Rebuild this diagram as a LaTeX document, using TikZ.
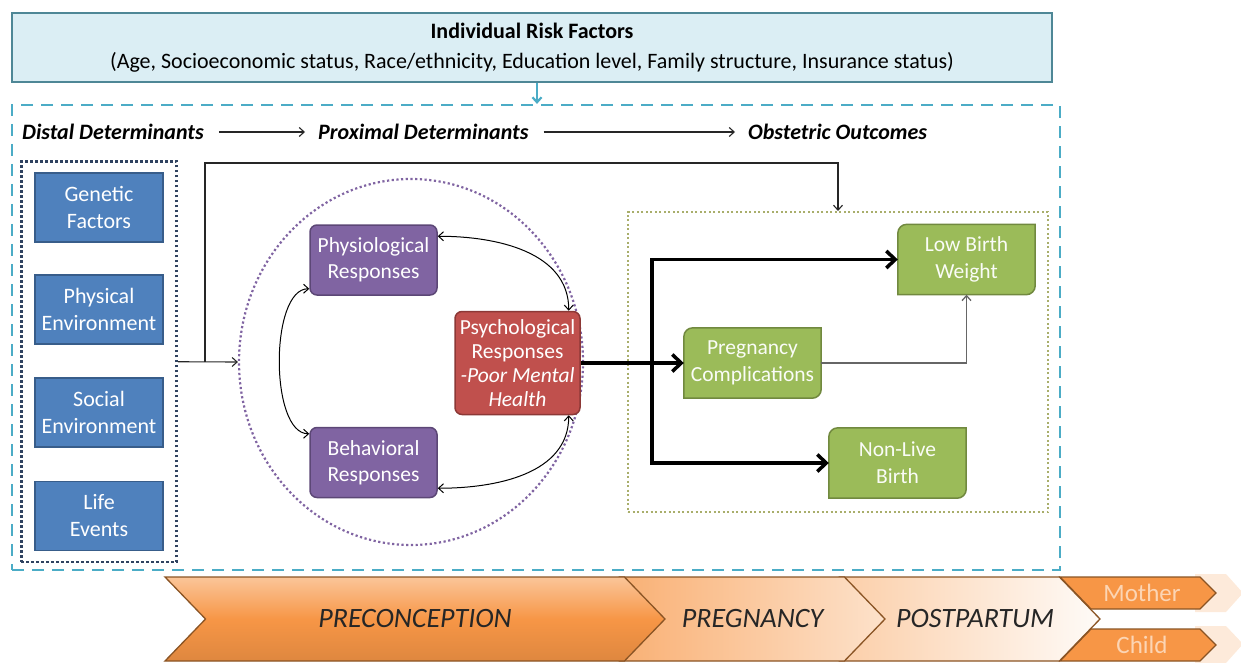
\documentclass[tikz,border=0pt]{standalone}
\usepackage{fontspec}
\setmainfont{Carlito}
\usetikzlibrary{positioning,arrows.meta,shapes.geometric,shapes.symbols,fit,backgrounds}
\definecolor{riskfill}{HTML}{DBEEF4}
\definecolor{riskline}{HTML}{4E8796}
\definecolor{dashblue}{HTML}{4BACC6}
\definecolor{navyline}{HTML}{2F4260}
\definecolor{blufill}{HTML}{4F81BD}
\definecolor{bluline}{HTML}{385D8A}
\definecolor{purfill}{HTML}{8064A2}
\definecolor{purline}{HTML}{5C4776}
\definecolor{redfill}{HTML}{C0504D}
\definecolor{redline}{HTML}{8C3836}
\definecolor{grnfill}{HTML}{9BBB59}
\definecolor{grnline}{HTML}{71893F}
\definecolor{grnframe}{HTML}{A9AE6B}
\definecolor{orfill}{HTML}{F79646}
\definecolor{orline}{HTML}{8A5424}
\definecolor{orlight}{HTML}{FCD5B4}
\definecolor{orpale}{HTML}{FDEADA}
\tikzset{
  riskbox/.style={draw=riskline, line width=2pt, fill=riskfill,
    minimum width=1040pt, minimum height=69pt, align=center,
    font=\fontsize{22}{30}\selectfont},
  detbox/.style={draw=bluline, line width=1.2pt, fill=blufill, text=white,
    minimum width=128pt, minimum height=69pt, inner sep=0pt,
    align=center, font=\fontsize{22}{27}\selectfont},
  respbox/.style={draw=purline, line width=1.5pt, fill=purfill,
    rounded corners=7pt, text=white, minimum width=127pt,
    minimum height=70pt, inner sep=0pt, align=center,
    font=\fontsize{21.5}{26}\selectfont},
  psybox/.style={respbox, draw=redline, fill=redfill, minimum width=125pt,
    minimum height=103pt, font=\fontsize{21.5}{24}\selectfont},
  outbox/.style={text=white!95!grnfill, minimum width=137pt,
    minimum height=70pt, inner sep=0pt, align=center,
    font=\fontsize{21.5}{27}\selectfont},
  headtxt/.style={font=\fontsize{22}{24}\selectfont\bfseries\itshape,
    inner sep=0pt},
  phase/.style={signal, signal to=east, signal from=west,
    signal pointer angle=92, draw=orline, line width=1.3pt,
    minimum height=84pt, inner sep=0pt, text=black!85,
    font=\fontsize{28}{30}\selectfont\itshape},
  tip/.style={-{Straight Barb[length=5pt,width=9pt]}},
  thinarr/.style={tip, line width=1.1pt, draw=black!85},
  grayarr/.style={tip, line width=1.3pt, draw=black!60},
  biarr/.style={{Straight Barb[length=5pt,width=9pt]}-{Straight Barb[length=5pt,width=9pt]},
    line width=1pt},
  thickarr/.style={-{Straight Barb[length=9pt,width=17pt]}, line width=3.5pt},
}
\begin{document}
\begin{tikzpicture}[x=1pt, y=1pt]
  \useasboundingbox (0,0) rectangle (1241,-663);
  % Individual risk factors
  \node[riskbox] (risk) at (532,-47.5)
    {\textbf{Individual Risk Factors}\\(Age, Socioeconomic status, Race/ethnicity, Education level, Family structure, Insurance status)};
  \node[draw=dashblue, line width=2.2pt, dash pattern=on 12pt off 8pt,
    minimum width=1048pt, minimum height=465pt] (frame) at (536,-337.5) {};
  \draw[tip, draw=dashblue, line width=2.2pt]
    ([xshift=5pt]risk.south) -- ([xshift=5pt]risk.south |- frame.north);
  % Header
  \node[headtxt, anchor=west] (distal)   at (22,-132)  {Distal Determinants};
  \node[headtxt, anchor=west] (proximal) at (318,-132) {Proximal Determinants};
  \node[headtxt, anchor=west] (obst)     at (748,-132) {Obstetric Outcomes};
  \draw[thinarr, shorten <=15pt, shorten >=13pt] (distal) -- (proximal);
  \draw[thinarr, shorten <=15pt, shorten >=13pt] (proximal) -- (obst);
  % Distal determinants
  \node[detbox] at (99,-207.5) (gen)  {Genetic\\Factors};
  \node[detbox] at (99,-309.5) (phy)  {Physical\\Environment};
  \node[detbox] at (99,-412.5) (soc)  {Social\\Environment};
  \node[detbox] at (99,-516)   (life) {Life\\Events};
  \node[draw=navyline, line width=2.5pt, dash pattern=on 2.5pt off 2.5pt,
    inner xsep=13pt, inner ysep=11pt, fit=(gen)(life)] (distframe) {};
  % Proximal determinants
  \node[ellipse, draw=purfill, line width=2.2pt, dash pattern=on 2.2pt off 2.5pt,
    minimum width=344pt, minimum height=366pt] (circ) at (411,-362) {};
  \node[respbox] at (373.5,-260)   (physio) {Physiological\\Responses};
  \node[respbox] at (373.5,-462.5) (behav)  {Behavioral\\Responses};
  \node[psybox]  at (517.5,-363)   (psych)
    {Psychological\\Responses\\\textit{-Poor Mental}\\\textit{Health}};
  % Obstetric outcomes
  \node[draw=grnframe, line width=2pt, dash pattern=on 2pt off 2.5pt,
    minimum width=420pt, minimum height=300pt] (outframe) at (838,-362) {};
  \node[outbox] at (966.5,-259.5) (lbw)  {Low Birth\\Weight};
  \node[outbox] at (752.5,-363)   (preg) {Pregnancy\\Complications};
  \node[outbox] at (897.5,-463)   (nlb)  {Non-Live\\Birth};
  \begin{scope}[on background layer]
    \foreach \n in {lbw,preg,nlb}
      \draw[draw=grnline, fill=grnfill, line width=1.5pt]
        (\n.south west) -- ([yshift=-9pt]\n.north west)
        arc[start angle=180, end angle=90, radius=9pt]
        -- (\n.north east) -- ([yshift=9pt]\n.south east)
        arc[start angle=0, end angle=-90, radius=9pt] -- cycle;
  \end{scope}
  % Edges
  \coordinate (branch) at (205,-362);
  \coordinate (bypass) at (838,-163);
  \coordinate (split)  at (652,-363);
  \draw[thinarr] (distframe.east) -- (circ.west);
  \draw[thinarr] (branch) |- (bypass) -- (outframe.north);
  \draw[biarr] ([yshift=-12pt]physio.north east) to[out=0, in=90]
    ([xshift=-12pt]psych.north east);
  \draw[biarr] ([xshift=-12pt]psych.south east) to[out=-90, in=0]
    ([yshift=10pt]behav.south east);
  \draw[biarr] ([yshift=7pt]physio.south west) to[out=180, in=180, looseness=0.7]
    ([yshift=-7pt]behav.north west);
  \draw[thickarr] (psych.east) -- (preg.west);
  \draw[thickarr] (split |- nlb) -- (split |- lbw) -- (lbw.west);
  \draw[thickarr] (split) |- (nlb.west);
  \draw[grayarr] (preg.east) -| (lbw.south);
  % Timeline
  \fill[orpale] (1195,-574) -- (1226,-574) -- (1243,-593) -- (1226,-612)
    -- (1195,-612) -- cycle;
  \fill[orpale] (1195,-626) -- (1226,-626) -- (1243,-644) -- (1226,-663)
    -- (1195,-663) -- cycle;
  \node[phase, minimum width=260pt, left color=orlight!90!orfill,
    right color=white!80!orpale] (post) at (970,-619) {\hspace*{10pt}POSTPARTUM};
  \node[phase, minimum width=265pt, left color=orfill!75!white,
    right color=orlight!70!white] (preg2) at (752.5,-619) {PREGNANCY};
  \node[phase, minimum width=500pt, top color=orfill!55!white,
    bottom color=orfill!90!black, middle color=orfill] (precon) at (415,-619)
    {PRECONCEPTION};
  \draw[draw=orline, line width=1.3pt, fill=orfill]
    (1060,-577) -- (1200,-577) -- (1216,-593) -- (1200,-609) -- (1091,-609) -- cycle;
  \draw[draw=orline, line width=1.3pt, fill=orfill]
    (1091,-629) -- (1200,-629) -- (1216,-645) -- (1200,-661) -- (1060,-661) -- cycle;
  \node[text=orlight, font=\fontsize{25}{28}\selectfont] (mother) at (1142,-593) {Mother};
  \node[text=orlight, font=\fontsize{25}{28}\selectfont] (child)  at (1142,-645) {Child};
\end{tikzpicture}
\end{document}
